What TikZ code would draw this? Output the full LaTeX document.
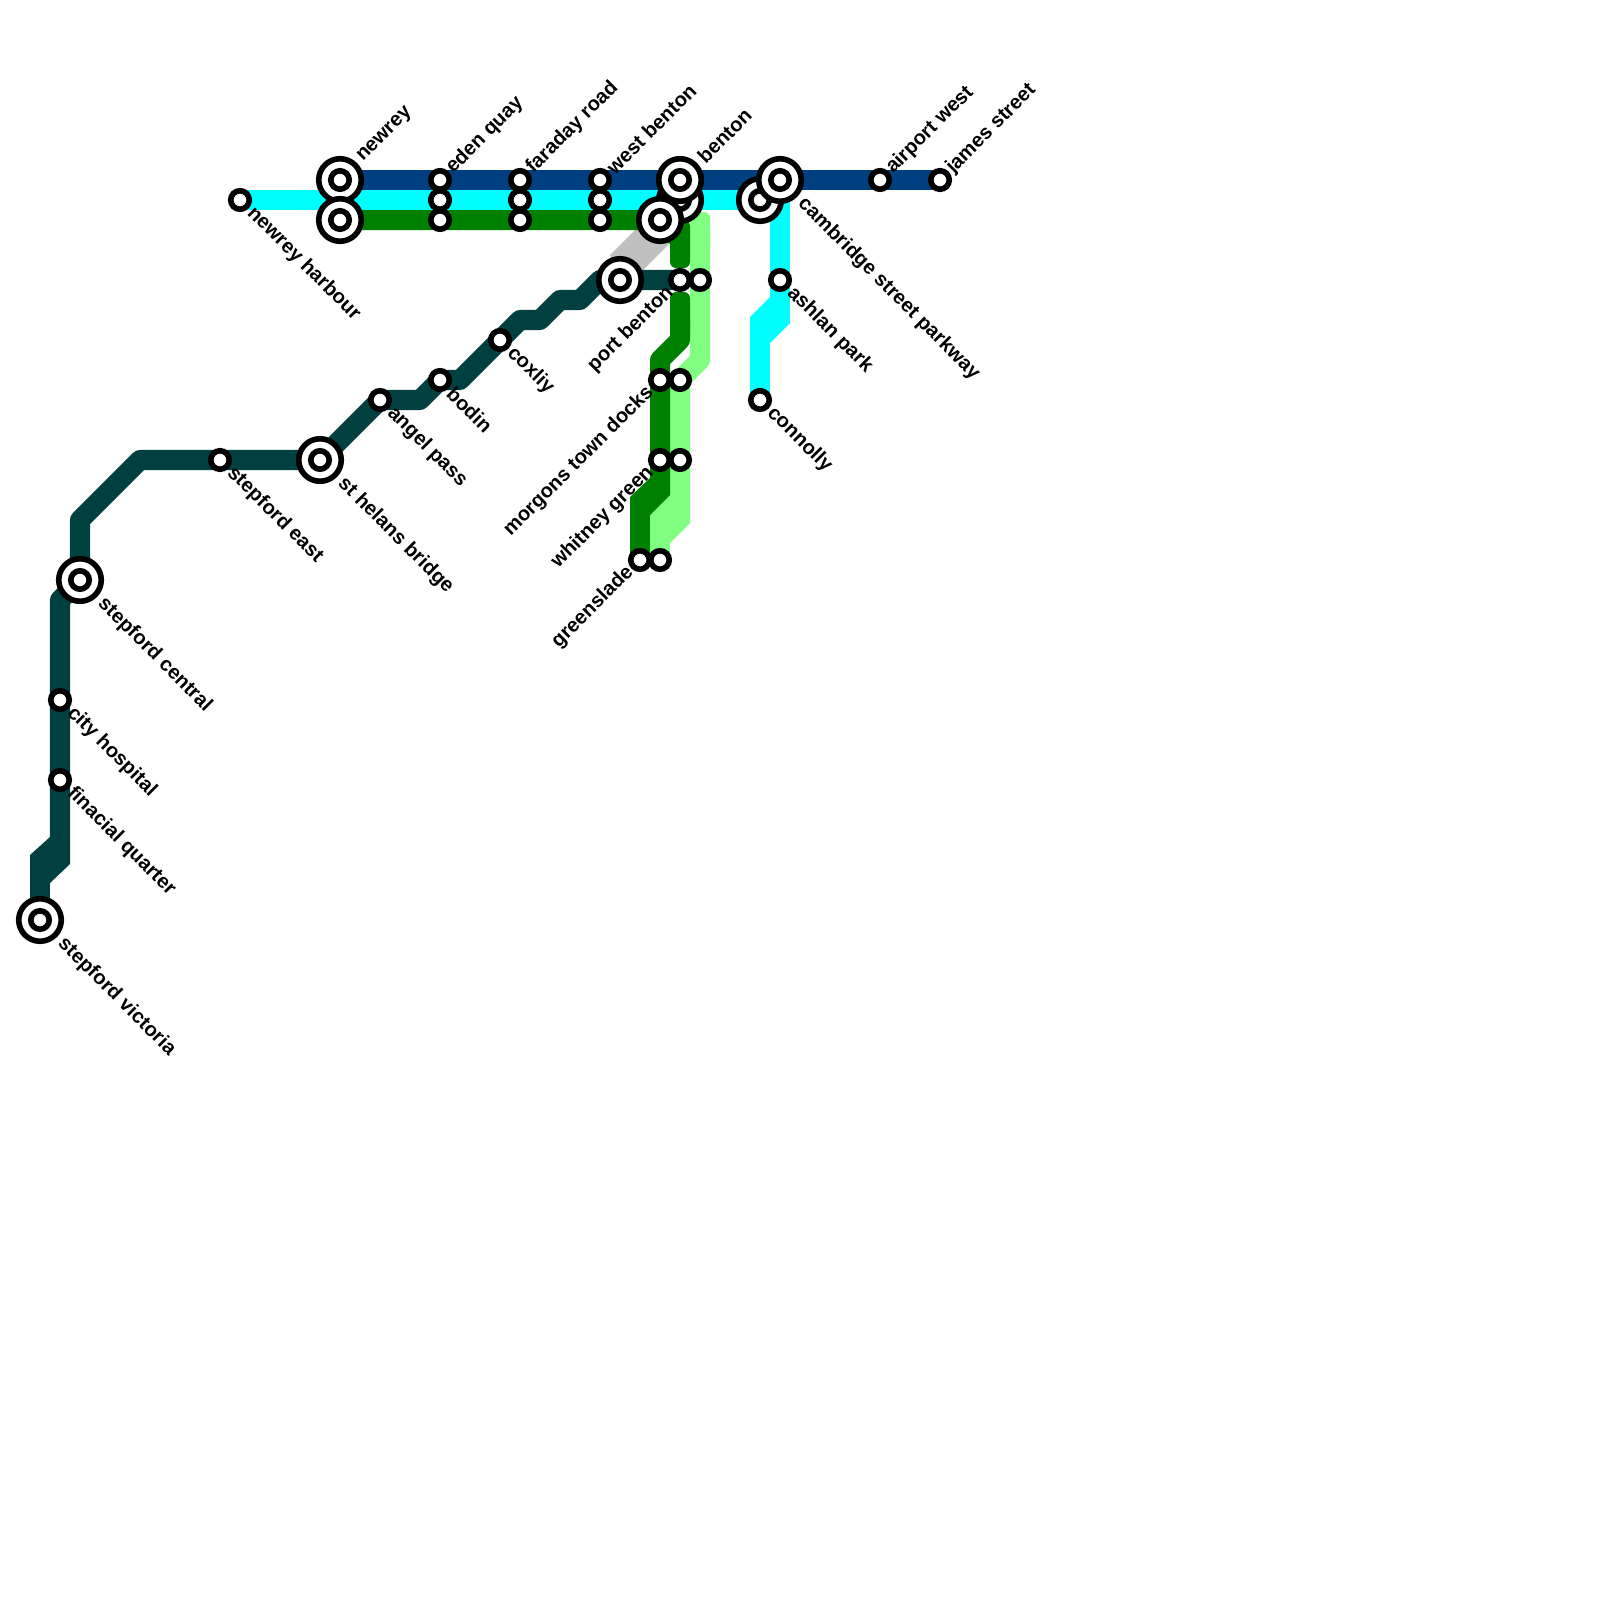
\documentclass[tikz,border=0pt]{standalone}
\usepackage{fontspec}
\setmainfont{Liberation Sans}
\usetikzlibrary{backgrounds}
\definecolor{linedeep}{RGB}{0,64,128}
\definecolor{linecyan}{RGB}{0,255,255}
\definecolor{linegreen}{RGB}{0,128,0}
\definecolor{linemint}{RGB}{128,255,128}
\definecolor{lineteal}{RGB}{0,64,64}
\definecolor{linegrey}{RGB}{192,192,192}

\begin{document}
\begin{tikzpicture}[
   x=.01cm,y=-.01cm,
   every node/.style={font=\fontsize{5.72pt}{6.5pt}\selectfont\bfseries,inner sep=0pt},
   stop/.style={circle,draw=black,fill=white,line width=.056cm,minimum size=.185cm},
   hub/.style={circle,draw=black,fill=white,line width=.056cm,minimum size=.425cm,
     path picture={\draw[line width=.056cm] (path picture bounding box.center) circle (.092cm);}},
   nameup/.style={rotate=45,anchor=west,xshift=.13cm},
   namedown/.style={rotate=-45,anchor=west,xshift=.14cm},
   nameleft/.style={rotate=45,anchor=east,xshift=-.13cm},
   hubup/.style={rotate=45,anchor=west,xshift=.285cm},
   hubdown/.style={rotate=-45,anchor=west,xshift=.29cm},
   track/.style={line width=.2cm,line join=round}
 ]
  \useasboundingbox (0,0) rectangle (1600,1600);

  % Top row, three lines side by side.
  \node[stop] (harbour) at (240,200) {};
  \node[hub] (newrey) at (340,180) {};
  \node[hub] (newreylow) at (340,220) {};
  \node[stop] (eden) at (440,180) {};
  \node[stop] (edenmid) at (440,200) {};
  \node[stop] (edenlow) at (440,220) {};
  \node[stop] (faraday) at (520,180) {};
  \node[stop] (faradaymid) at (520,200) {};
  \node[stop] (faradaylow) at (520,220) {};
  \node[stop] (westbenton) at (600,180) {};
  \node[stop] (westmid) at (600,200) {};
  \node[stop] (westlow) at (600,220) {};
  \node[hub] (bentonmid) at (680,200) {};
  \node[hub] (bentonlow) at (660,220) {};
  \node[hub] (benton) at (680,180) {};
  \node[hub] (cambridgelow) at (760,200) {};
  \node[hub] (cambridge) at (780,180) {};
  \node[stop] (airport) at (880,180) {};
  \node[stop] (james) at (940,180) {};

  % Branches under the top row.
  \node[stop] (ashlan) at (780,280) {};
  \node[stop] (connolly) at (760,400) {};
  \node[stop] (portbenton) at (680,280) {};
  \node[stop] (portmint) at (700,280) {};
  \node[stop] (morgons) at (660,380) {};
  \node[stop] (morgonsmint) at (680,380) {};
  \node[stop] (whitney) at (660,460) {};
  \node[stop] (whitneymint) at (680,460) {};
  \node[stop] (greenslade) at (640,560) {};
  \node[stop] (greenslademint) at (660,560) {};

  % The long line down to the left.
  \node[hub] (porthub) at (620,280) {};
  \node[stop] (coxliy) at (500,340) {};
  \node[stop] (bodin) at (440,380) {};
  \node[stop] (angel) at (380,400) {};
  \node[hub] (helens) at (320,460) {};
  \node[stop] (stepeast) at (220,460) {};
  \node[hub] (stepcentral) at (80,580) {};
  \node[stop] (hospital) at (60,700) {};
  \node[stop] (finacial) at (60,780) {};
  \node[hub] (victoria) at (40,920) {};

  % Station names.
  \node[namedown] (harbourname) at (harbour) {newrey harbour};
  \node[hubup] (newreyname) at (newrey) {newrey};
  \node[nameup] (edenname) at (eden) {eden quay};
  \node[nameup] (faradayname) at (faraday) {faraday road};
  \node[nameup] (westname) at (westbenton) {west benton};
  \node[hubup] (bentonname) at (benton) {benton};
  \node[hubdown] (cambridgename) at (cambridge) {cambridge street parkway};
  \node[nameup] (airportname) at (airport) {airport west};
  \node[nameup] (jamesname) at (james) {james street};
  \node[namedown] (ashlanname) at (ashlan) {ashlan park};
  \node[namedown] (connollyname) at (connolly) {connolly};
  \node[nameleft] (portname) at (portbenton) {port benton};
  \node[nameleft] (morgonsname) at (morgons) {morgons town docks};
  \node[nameleft] (whitneyname) at (whitney) {whitney green};
  \node[nameleft] (greensladename) at (greenslade) {greenslade};
  \node[namedown] (coxliyname) at (coxliy) {coxliy};
  \node[namedown] (bodinname) at (bodin) {bodin};
  \node[namedown] (angelname) at (angel) {angel pass};
  \node[hubdown] (helensname) at (helens) {st helans bridge};
  \node[namedown] (stepeastname) at (stepeast) {stepford east};
  \node[hubdown] (stepcentralname) at (stepcentral) {stepford central};
  \node[namedown] (hospitalname) at (hospital) {city hospital};
  \node[namedown] (finacialname) at (finacial) {finacial quarter};
  \node[hubdown] (victorianame) at (victoria) {stepford victoria};

  \begin{scope}[on background layer]
    % Grey link between the two benton stations.
    \fill[linegrey] (porthub) ++(-10,-25) -- ++(30,-30) -- ++(32,16) -- ++(-29,29) -- ++(-28,0) -- cycle;

    % Mint line, with rounded top and one wide jog.
    \fill[linemint,rounded corners=.06cm] (bentonmid) ++(10,12) rectangle ++(20,40);
    \draw[track,linemint] (portmint.center) ++(0,-50) -- ++(0,130) -- (morgonsmint.center)
      -- (whitneymint.center) -- ++(0,63);
    \draw[track,linemint] (greenslademint.center) -- ++(0,-45);
    \fill[linemint] (whitneymint) ++(-10,35) -- ++(20,28) -- ++(-20,20) -- ++(-20,-28) -- cycle;

    % Green line is broken at port benton.
    \draw[track,linegreen] (newreylow.center) -- (bentonlow.center) -- ++(20,20);
    \fill[linegreen,rounded corners=.06cm] (portbenton) ++(-10,-60) rectangle ++(20,48);
    \fill[linegreen,rounded corners=.06cm] (portbenton) ++(-10,12) rectangle ++(20,48);
    \draw[track,linegreen] (portbenton.center) ++(0,40) -- ++(0,20) -- ++(-20,20) -- (morgons.center)
      -- (whitney.center) -- ++(0,35);
    \draw[track,linegreen] (greenslade.center) -- ++(0,-63);
    \fill[linegreen] (whitney) ++(-10,18) -- ++(20,17) -- ++(-20,20) -- ++(-20,-18) -- cycle;

    % Cyan line and its branch to connolly.
    \draw[track,linecyan] (harbour.center) -- (cambridgelow.center);
    \draw[track,linecyan] (cambridge.center) -- (ashlan.center) -- ++(0,43);
    \draw[track,linecyan] (connolly.center) -- ++(0,-83);
    \fill[linecyan] (ashlan) ++(-10,17) -- ++(20,26) -- ++(-20,20) -- ++(-20,-26) -- cycle;

    \draw[track,linedeep] (newrey.center) -- (james.center);

    % Teal line from the far end up to port benton.
    \draw[track,lineteal] (victoria.center) -- ++(0,-65);
    \fill[lineteal] (finacial) ++(-10,57) -- ++(20,27) -- ++(-20,19) -- ++(-20,-28) -- cycle;
    \draw[track,lineteal] (finacial.center) ++(0,84) -- (finacial.center) -- (hospital.center)
      -- ++(0,-100) -- (stepcentral.center) -- ++(0,-60) -- ++(60,-60) -- (stepeast.center)
      -- (helens.center) -- (angel.center) -- ++(40,0) -- (bodin.center) -- ++(20,0)
      -- (coxliy.center) -- ++(20,-20) -- ++(20,0) -- ++(20,-20) -- ++(20,0) -- ++(20,-20)
      -- (porthub.center) -- (portbenton.center);
  \end{scope}
\end{tikzpicture}
\end{document}
